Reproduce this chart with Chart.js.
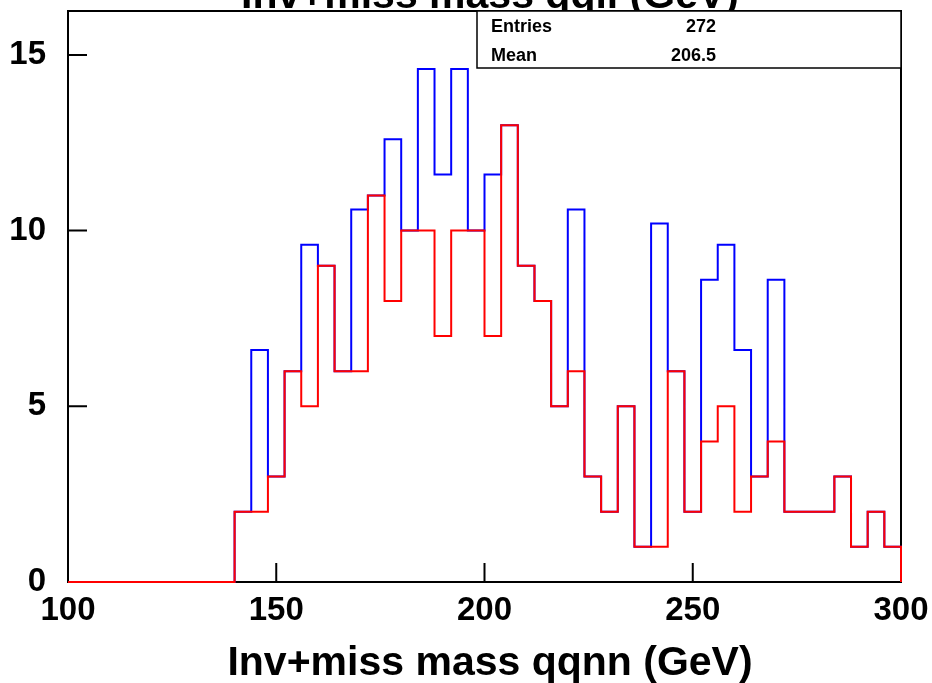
<!DOCTYPE html>
<html>
<head>
<meta charset="utf-8">
<title>Inv+miss mass qqll (GeV)</title>
<script src="https://cdn.jsdelivr.net/npm/chart.js@4.4.0/dist/chart.umd.min.js"></script>
<style>
  html, body { margin: 0; padding: 0; background: #fff; }
  #massChart { display: block; }
</style>
</head>
<body>
<canvas id="massChart" width="932" height="683"></canvas>
<script>
// lower edge of each 4 GeV bin, the last bin closes at histEnd
const binEdges = [100, 104, 108, 112, 116, 120, 124, 128, 132, 136,
                  140, 144, 148, 152, 156, 160, 164, 168, 172, 176,
                  180, 184, 188, 192, 196, 200, 204, 208, 212, 216,
                  220, 224, 228, 232, 236, 240, 244, 248, 252, 256,
                  260, 264, 268, 272, 276, 280, 284, 288, 292, 296];
const histEnd = 300;

const blueCounts = [0, 0, 0, 0, 0, 0, 0, 0, 0, 0,
                    2, 6.6, 3, 6, 9.6, 9, 6, 10.6, 11, 12.6,
                    10, 14.6, 11.6, 14.6, 10, 11.6, 13, 9, 8, 5,
                    10.6, 3, 2, 5, 1, 10.2, 6, 2, 8.6, 9.6,
                    6.6, 3, 8.6, 2, 2, 2, 3, 1, 2, 1];
const redCounts = [0, 0, 0, 0, 0, 0, 0, 0, 0, 0,
                   2, 2, 3, 6, 5, 9, 6, 6, 11, 8,
                   10, 10, 7, 10, 10, 7, 13, 9, 8, 5,
                   6, 3, 2, 5, 1, 1, 6, 2, 4, 5,
                   2, 3, 4, 2, 2, 2, 3, 1, 2, 1];

const xTicks = [100, 150, 200, 250, 300];
const yTicks = [0, 5, 10, 15];
const yMax = 16.25;

const titleText = "Inv+miss mass qqll (GeV)";
const xTitle = "Inv+miss mass qqnn (GeV)";
const statsLabels = ["Entries", "Mean"];
const statsValues = ["272", "206.5"];

const fontFamily = "'Liberation Sans', Arial, Helvetica, sans-serif";

function toSteps(counts) {
    let pts = binEdges.map((x, i) => ({ x: x, y: counts[i] }));
    pts.push({ x: histEnd, y: 0 });
    return pts;
}

function noPadding(axis) {
    axis.paddingTop = 0;
    axis.paddingBottom = 0;
    axis.paddingLeft = 0;
    axis.paddingRight = 0;
}

// ROOT style frame: inner tick marks, titles and the stats box
const rootFrame = {
    id: "rootFrame",
    beforeDatasetsDraw(chart) {
        const ctx = chart.ctx;
        const area = chart.chartArea;
        const xs = chart.scales.x;
        const ys = chart.scales.y;

        ctx.save();
        ctx.strokeStyle = "#000";
        ctx.lineWidth = 2;
        ctx.strokeRect(area.left, area.top, area.right - area.left, area.bottom - area.top);

        ctx.beginPath();
        yTicks.forEach(v => {
            const y = ys.getPixelForValue(v);
            ctx.moveTo(area.left, y);
            ctx.lineTo(area.left + 19, y);
        });
        xTicks.forEach(v => {
            const x = xs.getPixelForValue(v);
            ctx.moveTo(x, area.bottom);
            ctx.lineTo(x, area.bottom - 19);
        });
        ctx.stroke();
        ctx.restore();
    },
    afterDraw(chart) {
        const ctx = chart.ctx;
        ctx.save();
        ctx.fillStyle = "#000";
        ctx.font = "bold 41px " + fontFamily;
        ctx.textAlign = "center";
        ctx.textBaseline = "alphabetic";
        // x axis title
        ctx.fillText(xTitle, 490, 675);
        // title, mostly above the page
        ctx.fillText(titleText, 490, 8);

        // stats box
        ctx.fillStyle = "#fff";
        ctx.fillRect(477, 11, 424, 57);
        ctx.strokeStyle = "#000";
        ctx.lineWidth = 1.5;
        ctx.strokeRect(477, 11, 424, 57);
        ctx.fillStyle = "#000";
        ctx.font = "bold 18px " + fontFamily;
        statsLabels.forEach((label, i) => {
            const y = 32 + i * 29;
            ctx.textAlign = "left";
            ctx.fillText(label, 491, y);
            ctx.textAlign = "right";
            ctx.fillText(statsValues[i], 716, y);
        });
        ctx.restore();
    }
};

const massChart = new Chart(document.getElementById("massChart"), {
    type: "line",
    data: {
        datasets: [{
            label: "qqnn",
            data: toSteps(redCounts),
            borderColor: "#ff0000",
            borderWidth: 2,
            stepped: true,
            pointRadius: 0,
            fill: false,
            clip: 2
        }, {
            label: "total",
            data: toSteps(blueCounts),
            borderColor: "#0000ff",
            borderWidth: 2,
            stepped: true,
            pointRadius: 0,
            fill: false,
            clip: 2
        }]
    },
    options: {
        responsive: false,
        animation: false,
        devicePixelRatio: 1,
        layout: { padding: { top: 11, right: 31, left: 0, bottom: 0 } },
        plugins: {
            legend: { display: false },
            tooltip: { enabled: false }
        },
        scales: {
            x: {
                type: "linear",
                min: 100,
                max: 300,
                afterBuildTicks: axis => { axis.ticks = xTicks.map(v => ({ value: v })); },
                afterFit: axis => { axis.height = 101; noPadding(axis); },
                grid: { display: false, drawTicks: false },
                border: { display: false },
                ticks: {
                    color: "#000",
                    padding: 9,
                    maxRotation: 0,
                    autoSkip: false,
                    font: { family: fontFamily, size: 33, weight: "bold" }
                }
            },
            y: {
                min: 0,
                max: yMax,
                afterBuildTicks: axis => { axis.ticks = yTicks.map(v => ({ value: v })); },
                afterFit: axis => { axis.width = 68; noPadding(axis); },
                grid: { display: false, drawTicks: false },
                border: { display: false },
                ticks: {
                    color: "#000",
                    padding: 22,
                    font: { family: fontFamily, size: 33, weight: "bold" }
                }
            }
        }
    },
    plugins: [rootFrame]
});
</script>
</body>
</html>
